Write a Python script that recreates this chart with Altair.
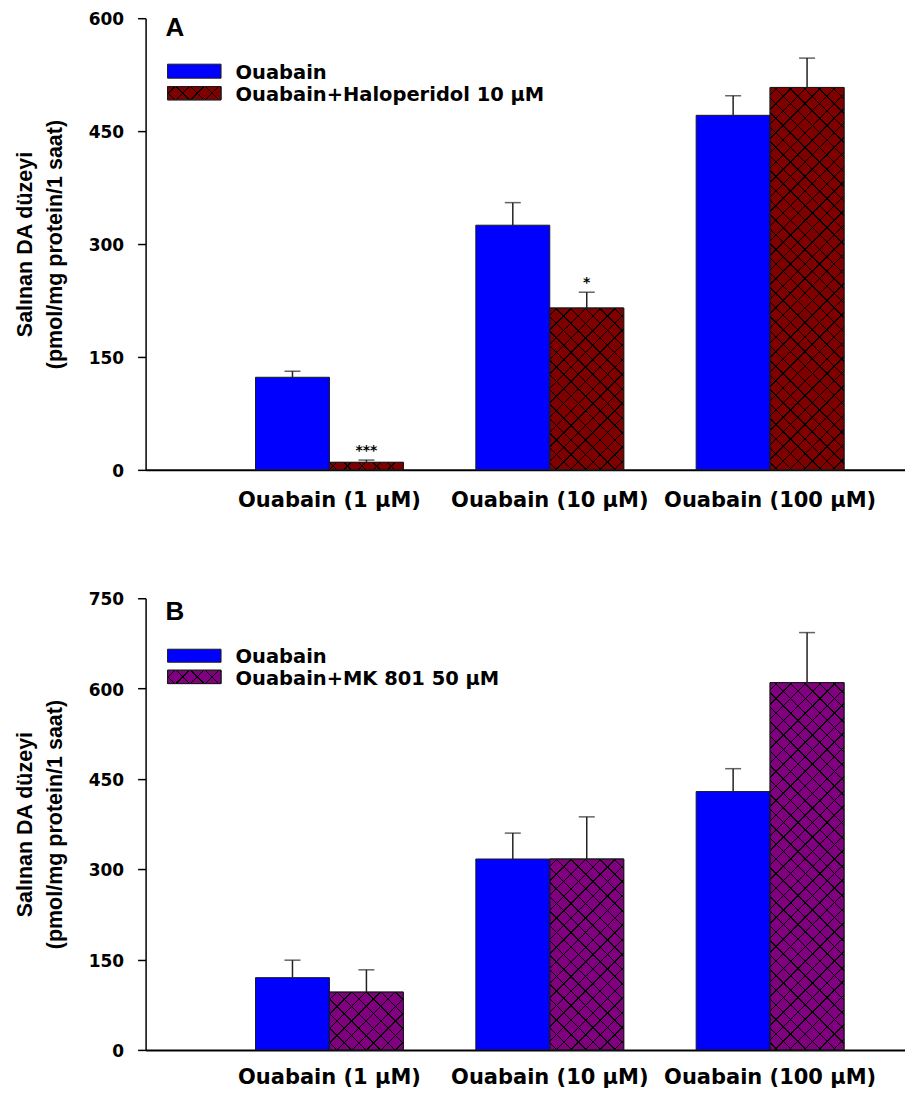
import altair as alt
import pandas as pd

# ---------------- data ----------------
groups = ["Ouabain (1 µM)", "Ouabain (10 µM)", "Ouabain (100 µM)"]

a_series = ["Ouabain", "Ouabain+Haloperidol 10 µM"]
a_ouabain = [123, 325, 471]
a_ouabain_se = [8, 30, 26]
a_halo = [10, 215, 508]
a_halo_se = [3, 21, 39]
a_halo_sig = ["***", "*", ""]

b_series = ["Ouabain", "Ouabain+MK 801 50 µM"]
b_ouabain = [120, 317, 429]
b_ouabain_se = [29, 43, 38]
b_mk = [96, 317, 610]
b_mk_se = [37, 70, 83]
b_mk_sig = ["", "", ""]

a_ticks = [0, 150, 300, 450, 600]
b_ticks = [0, 150, 300, 450, 600, 750]

y_title = ["Salınan DA düzeyi", "(pmol/mg protein/1 saat)"]

# ---------------- layout / style ----------------
W = 760
H_A = 452
H_B = 452
STEP = 220.5
GROUP_W = 148
PI = 1 - GROUP_W / STEP
PO = (W / STEP - (3 - PI)) / 2
ALIGN = 110 / (W - STEP * (3 - PI))
BAR_W = GROUP_W / 2

BLUE = "#0000FF"
EDGE = "#1a1a1a"
TICKFONT = "DejaVu Sans"
TITLEFONT = "Liberation Sans"
PERIOD = 14.6
LW = 1.4
CLEAR = "rgba(0,0,0,0)"


def hatch(w, h, direction):
    L = w + h
    k = w * L / (w * w + h * h)
    if direction == 1:
        x1, y1, x2, y2 = 0, 0, k, k * h / w
    else:
        x1, y1, x2, y2 = 0, 1, k, 1 - k * h / w
    stops = [{"offset": 0, "color": CLEAR}]
    c = PERIOD / 2
    while c - LW / 2 < L:
        a = max(0.0, (c - LW / 2) / L)
        b = min(1.0, (c + LW / 2) / L)
        stops += [
            {"offset": a, "color": CLEAR},
            {"offset": a, "color": "#000000"},
            {"offset": b, "color": "#000000"},
            {"offset": b, "color": CLEAR},
        ]
        c += PERIOD
    stops.append({"offset": 1, "color": CLEAR})
    return {"gradient": "linear", "x1": x1, "y1": y1, "x2": x2, "y2": y2, "stops": stops}


def panel(letter, series, v1, s1, v2, s2, sig2, color2, ymax, ticks, H,
          xpad, sw_y, txt_y, letter_y):
    rows = []
    for i, g in enumerate(groups):
        rows.append({"grp": g, "ser": series[0], "val": v1[i], "hi": v1[i] + s1[i], "sig": ""})
        rows.append({"grp": g, "ser": series[1], "val": v2[i], "hi": v2[i] + s2[i], "sig": sig2[i]})
    df = pd.DataFrame(rows)

    xenc = alt.X(
        "grp:N", sort=groups, title=None,
        scale=alt.Scale(paddingInner=PI, paddingOuter=PO, align=ALIGN),
        axis=alt.Axis(ticks=False, tickSize=0, labelPadding=xpad, labelAngle=0, labelLimit=0,
                      labelFont=TICKFONT, labelFontSize=21, labelFontWeight="bold",
                      labelColor="#000000", domainColor="#000000", domainWidth=2),
    )
    xoff = alt.XOffset("ser:N", sort=series, scale=alt.Scale(paddingInner=0, paddingOuter=0))

    def yenc(field):
        return alt.Y(
            field, type="quantitative", title=y_title,
            scale=alt.Scale(domain=[0, ymax], nice=False, zero=True),
            axis=alt.Axis(values=ticks, tickSize=8, tickWidth=1.5, tickColor="#000000",
                          domainColor="#000000", domainWidth=1.5, labelPadding=14,
                          labelOffset=1.5,
                          labelFont=TICKFONT, labelFontSize=17, labelFontWeight="bold",
                          labelColor="#000000",
                          titleFont=TITLEFONT, titleFontSize=21.5, titleFontWeight="bold",
                          titleColor="#000000", titleLineHeight=30,
                          titleX=-120.5, titleY=H / 2, titleBaseline="middle",
                          titleAlign="center", titleAngle=270),
        )

    base = alt.Chart(df).encode(x=xenc, xOffset=xoff, y=yenc("val"))

    bars = base.mark_bar(stroke=EDGE, strokeWidth=1).encode(
        fill=alt.Fill("ser:N", scale=alt.Scale(domain=series, range=[BLUE, color2]), legend=None)
    )
    layers = [bars]
    for i, g in enumerate(groups):
        h = v2[i] * H / ymax
        for d in (1, 2):
            layers.append(
                base.transform_filter((alt.datum.ser == series[1]) & (alt.datum.grp == g))
                .mark_bar(fill=hatch(BAR_W, h, d), strokeWidth=0)
            )
    layers.append(
        base.transform_filter(alt.datum.ser == series[1])
        .mark_bar(fillOpacity=0, stroke=EDGE, strokeWidth=1)
    )
    layers.append(base.mark_rule(color="#222222", strokeWidth=1.5).encode(y2="hi:Q"))
    layers.append(base.mark_tick(color="#222222", size=16, thickness=1.5).encode(y=yenc("hi")))
    layers.append(
        base.transform_filter(alt.datum.sig != "")
        .mark_text(font=TICKFONT, fontSize=14, fontWeight="bold", baseline="alphabetic",
                   dy=-5.5, color="#000000")
        .encode(y=yenc("hi"), text="sig:N")
    )

    # legend
    leg = pd.DataFrame({"label": series, "row": [0, 1]})
    sw_w = 53.5
    for r in range(2):
        sub = alt.Chart(leg).transform_filter(alt.datum.row == r)
        enc = dict(x=alt.value(22), x2=alt.value(22 + sw_w), y=alt.value(sw_y[r][0]), y2=alt.value(sw_y[r][1]))
        layers.append(sub.mark_rect(fill=BLUE if r == 0 else color2, stroke=EDGE, strokeWidth=1).encode(**enc))
        if r == 1:
            sw_h = sw_y[r][1] - sw_y[r][0]
            layers.append(sub.mark_rect(fill=hatch(sw_w, sw_h, 1), strokeWidth=0).encode(**enc))
            layers.append(sub.mark_rect(fill=hatch(sw_w, sw_h, 2), strokeWidth=0).encode(**enc))
            layers.append(sub.mark_rect(fillOpacity=0, stroke=EDGE, strokeWidth=1).encode(**enc))
        layers.append(
            sub.mark_text(align="left", baseline="middle", font=TICKFONT, fontSize=19.5,
                          fontWeight="bold", color="#000000")
            .encode(x=alt.value(90), y=alt.value(txt_y[r]), text="label:N")
        )
    lab = pd.DataFrame({"panel": [letter]})
    layers.append(
        alt.Chart(lab).mark_text(align="left", baseline="alphabetic", font=TITLEFONT,
                                 fontSize=26, fontWeight="bold", color="#000000")
        .encode(x=alt.value(20), y=alt.value(letter_y), text="panel:N")
    )
    return alt.layer(*layers).properties(width=W, height=H)


pa = panel("A", a_series, a_ouabain, a_ouabain_se, a_halo, a_halo_se, a_halo_sig,
           "#800000", 600, a_ticks, H_A, 20,
           [(46.0, 60.0), (68.4, 81.7)], [54.5, 76.5], 18)
pb = panel("B", b_series, b_ouabain, b_ouabain_se, b_mk, b_mk_se, b_mk_sig,
           "#800080", 750, b_ticks, H_B, 17,
           [(51.0, 64.0), (72.0, 85.4)], [59, 80.5], 22)

chart = (
    alt.vconcat(pa, pb, spacing=79.5)
    .resolve_scale(fill="independent", xOffset="independent", x="independent", y="independent")
    .properties(padding={"left": 5.7, "top": 1.8, "right": 0, "bottom": 1})
    .configure_view(stroke=None)
    .configure_axis(grid=False)
)

chart.save("out.html", embed_options={"renderer": "svg", "actions": False})
